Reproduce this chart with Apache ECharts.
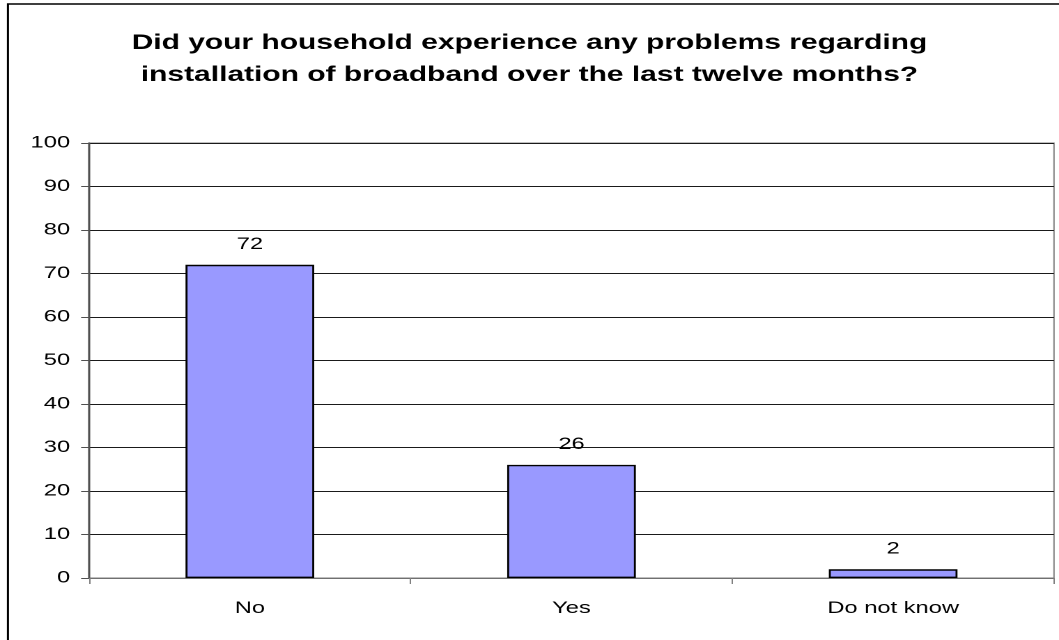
<!DOCTYPE html>
<html><head><meta charset="utf-8">
<script src="https://cdn.jsdelivr.net/npm/echarts@6/dist/echarts.min.js"></script>
<style>
html,body{margin:0;padding:0;background:#fff;overflow:hidden}
#c{width:760px;height:640px;transform:scaleX(1.39342);transform-origin:0 0}
</style>
</head><body><div id="c"></div>
<script>
var titleText = 'Did your household experience any problems regarding\ninstallation of broadband over the last twelve months?';
var categories = ['No', 'Yes', 'Do not know'];
var values = [72, 26, 2];
var yTicks = [0, 10, 20, 30, 40, 50, 60, 70, 80, 90, 100];

var chart = echarts.init(document.getElementById('c'), null, {renderer: 'canvas', devicePixelRatio: 2});
chart.setOption({
  animation: false,
  backgroundColor: '#fff',
  title: {
    text: titleText,
    left: 'center',
    top: 22,
    textStyle: {fontFamily: 'Liberation Sans, Arial', fontWeight: 'bold', fontSize: 21.5, lineHeight: 32, color: '#000'}
  },
  graphic: [{
    type: 'rect', shape: {x: 5.7, y: 4, width: 1000, height: 800},
    style: {fill: 'none', stroke: '#000', lineWidth: 1.5}, silent: true
  }],
  grid: {left: 63.9, right: 3.6, top: 143, bottom: 62, show: true, borderColor: '#808080', borderWidth: 1, backgroundColor: 'transparent'},
  xAxis: {
    type: 'category', data: categories, boundaryGap: true,
    axisLine: {lineStyle: {color: '#707070', width: 1}},
    axisTick: {show: true, length: 6, alignWithLabel: false, lineStyle: {color: '#808080'}},
    axisLabel: {margin: 22, color: '#000', fontFamily: 'Liberation Sans, Arial', fontSize: 17}
  },
  yAxis: {
    type: 'value', min: yTicks[0], max: yTicks[yTicks.length - 1], interval: 10,
    axisLine: {show: true, lineStyle: {color: '#505050', width: 1.5}},
    axisTick: {show: true, length: 5.7, lineStyle: {color: '#505050'}},
    axisLabel: {margin: 13.6, color: '#000', fontFamily: 'Liberation Sans, Arial', fontSize: 17},
    splitLine: {show: true, lineStyle: {color: '#1a1a1a', width: 1}}
  },
  series: [{
    type: 'bar', data: values, barWidth: '40%',
    itemStyle: {color: '#9999FF', borderColor: '#000', borderWidth: 1.4},
    label: {show: true, position: 'top', distance: 12, color: '#000', fontFamily: 'Liberation Sans, Arial', fontSize: 17}
  }]
});
</script></body></html>
